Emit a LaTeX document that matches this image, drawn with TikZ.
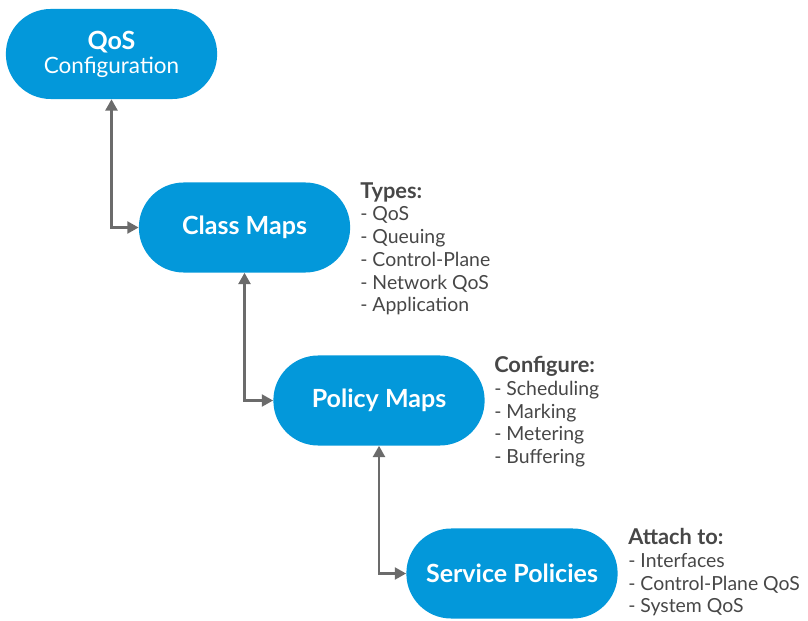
\documentclass[tikz,border=0pt]{standalone}
\usepackage{fontspec}
\setmainfont{Lato}
\usepackage{tikz}
\usetikzlibrary{arrows.meta}
\definecolor{pillblue}{HTML}{0398DA}
\definecolor{ink}{HTML}{333333}
\definecolor{wire}{HTML}{6B6B6B}
\tikzset{
  pill/.style={fill=pillblue, text=white, rounded corners=1.12cm, minimum width=5.28cm,
    minimum height=2.25cm, align=center, inner sep=0pt,
    font=\fontsize{17.8}{20}\selectfont\bfseries},
  conn/.style={draw=wire, line width=1.7pt,
    {Triangle[length=8pt,width=8.5pt]}-{Triangle[length=8pt,width=8.5pt]}},
  notes/.style={text=ink!90, anchor=north west, align=left, inner sep=0pt,
    font=\fontsize{13.8}{16.2}\selectfont}
}
\begin{document}
\begin{tikzpicture}[x=0.025cm, y=0.025cm]
  \useasboundingbox (0,0) rectangle (808,620);

  % the four stages
  \node[pill] (qos) at (111.5,566)
    {QoS\\[-3pt]{\fontsize{16}{18}\selectfont\mdseries Configuration}};
  \node[pill] (class) at (244.5,392.5) {Class Maps};
  \node[pill] (policy) at (379,219.5) {Policy Maps};
  \node[pill] (service) at (512,46.5) {Service Policies};

  % links
  \draw[conn] (qos.south) |- (class.west);
  \draw[conn] (class.south) |- (policy.west);
  \draw[conn] (policy.south) |- (service.west);

  % side notes
  \node[notes] (types) at (360,438)
    {{\fontsize{15.5}{16.2}\selectfont\bfseries Types:}\\
     - QoS\\ - Queuing\\ - Control-Plane\\ - Network QoS\\ - Application};
  \node[notes] (configure) at (494,264)
    {{\fontsize{15.5}{16.2}\selectfont\bfseries Configure:}\\
     - Scheduling\\ - Marking\\ - Metering\\ - Buffering};
  \node[notes] (attach) at (628,92)
    {{\fontsize{15.5}{16.2}\selectfont\bfseries Attach to:}\\
     - Interfaces\\ - Control-Plane QoS\\ - System QoS};
\end{tikzpicture}
\end{document}
